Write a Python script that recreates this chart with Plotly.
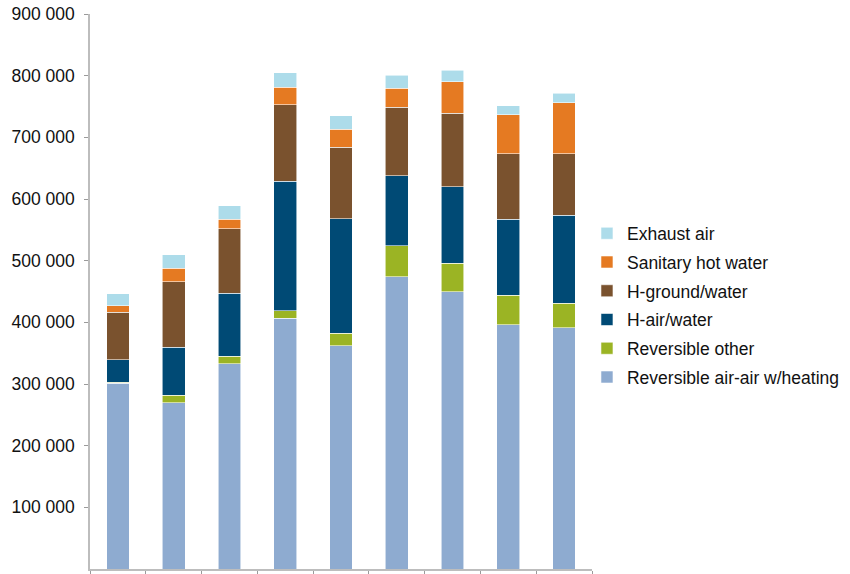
import plotly.graph_objects as go

categories = ["1", "2", "3", "4", "5", "6", "7", "8", "9"]

series_names = [
    "Reversible air-air w/heating",
    "Reversible other",
    "H-air/water",
    "H-ground/water",
    "Sanitary hot water",
    "Exhaust air",
]

rev_air_air = [301000, 270000, 333000, 407000, 362000, 474000, 450000, 396000, 391000]
rev_other = [2000, 12000, 12000, 12000, 20500, 50000, 46000, 48000, 40000]
h_air_water = [36000, 78000, 102000, 210000, 185500, 114000, 124000, 123000, 143000]
h_ground_water = [77000, 106000, 105000, 124000, 116000, 111000, 119000, 106000, 99000]
sanitary_hot_water = [11000, 22000, 15000, 28000, 29000, 31000, 51000, 64000, 83000]
exhaust_air = [19000, 22000, 22000, 24000, 22000, 21000, 19000, 14000, 15500]

series_values = [rev_air_air, rev_other, h_air_water, h_ground_water,
                 sanitary_hot_water, exhaust_air]
colors = ["#8EABD0", "#9BB424", "#004A75", "#7A522E", "#E57A22", "#ADDCEA"]

y_tick_values = [100000, 200000, 300000, 400000, 500000, 600000, 700000, 800000, 900000]

fig = go.Figure()
n = len(series_names)
for i, (name, vals, col) in enumerate(zip(series_names, series_values, colors)):
    fig.add_trace(go.Bar(
        x=categories, y=vals, name=name, legendgroup=name,
        legendrank=(n - i) * 10,
        marker=dict(color=col, line=dict(color="rgba(255,255,255,0.7)", width=0.8)),
    ))

font_family = "Liberation Sans, Arial, sans-serif"
fig.update_layout(
    width=850, height=574,
    barmode="stack", bargap=0.593,
    separators=". ",
    plot_bgcolor="white", paper_bgcolor="white",
    margin=dict(l=90, r=258, t=14, b=5, pad=0, autoexpand=False),
    font=dict(family=font_family, size=17.5, color="#111111"),
    legend=dict(
        x=0.99, xanchor="left", y=0.475, yanchor="middle",
        traceorder="grouped", tracegroupgap=3,
        font=dict(size=17.5, family=font_family, color="#111111"),
        bgcolor="rgba(0,0,0,0)",
    ),
    showlegend=True,
)
fig.update_yaxes(
    range=[0, 900000], tickvals=y_tick_values, tickformat=",d",
    showgrid=False, zeroline=False, automargin=False,
    showline=True, linecolor="#BDBDBD", linewidth=1.5,
    ticks="outside", ticklen=4, tickcolor="#9a9a9a", tickwidth=1,
    ticklabelstandoff=6,
    tickfont=dict(size=17.5, family=font_family, color="#111111"),
)
fig.update_xaxes(
    type="category", showticklabels=False, automargin=False,
    showgrid=False, zeroline=False,
    showline=True, linecolor="#BDBDBD", linewidth=1.5,
    ticks="outside", ticklen=6, tickcolor="#9a9a9a", tickwidth=1,
    tickson="boundaries",
)

fig.write_html("out.html")
